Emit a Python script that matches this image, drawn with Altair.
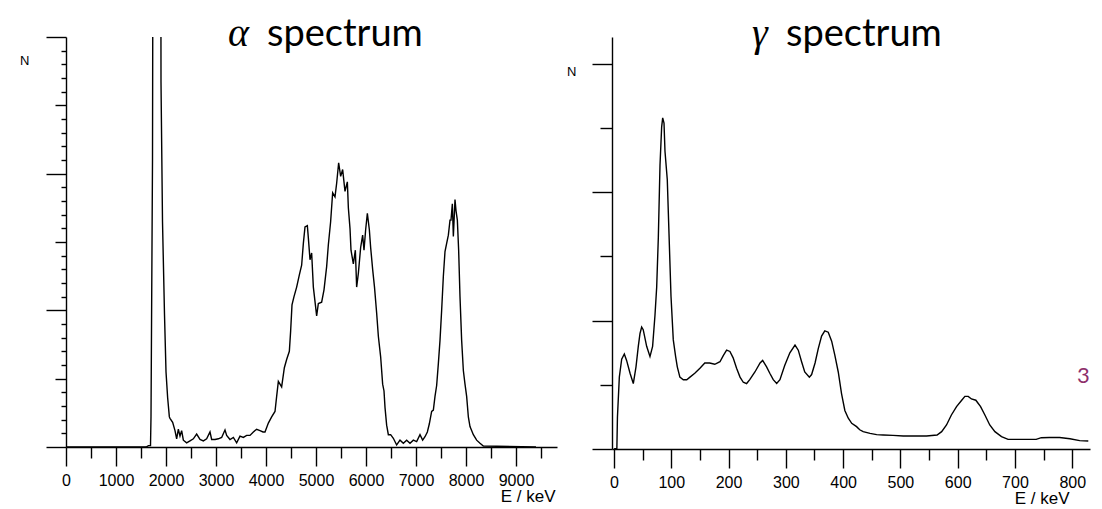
import altair as alt
import pandas as pd

# alpha spectrum: [E (keV), N (arb. units, axis top = 30)]
alpha_points = [
    [0, 0], [1600, 0], [1650, 0.1], [1690, 0.1], [1700, 2.2], [1730, 21], [1750, 60],
    [1890, 60], [1900, 26.7], [1930, 16.5], [1970, 9.7], [2000, 5.5], [2033, 3.6],
    [2067, 2.2], [2080, 2.1], [2133, 1.8], [2180, 1.2], [2213, 0.6], [2247, 1.3],
    [2280, 0.8], [2313, 1.2], [2347, 0.5], [2413, 0.3], [2480, 0.45], [2547, 0.6],
    [2613, 0.95], [2680, 0.55], [2747, 0.45], [2813, 0.6], [2880, 1.1], [2913, 0.55],
    [2980, 0.55], [3047, 0.6], [3113, 0.7], [3180, 1.25], [3213, 0.85], [3280, 0.55],
    [3347, 0.7], [3413, 0.3], [3480, 0.8], [3547, 0.7], [3613, 0.85], [3680, 0.85],
    [3747, 1.1], [3813, 1.3], [3880, 1.2], [3940, 1.1], [3980, 1.1], [4047, 1.75],
    [4113, 2.2], [4180, 2.6], [4213, 3.7], [4247, 4.8], [4313, 4.4], [4367, 5.8],
    [4413, 6.4], [4467, 7.0], [4493, 8.5], [4520, 10.4], [4560, 11.0], [4613, 11.7],
    [4667, 12.6], [4713, 13.3], [4747, 14.9], [4780, 16.1], [4827, 16.2], [4847, 15.3],
    [4880, 13.7], [4913, 14.2], [4947, 11.7], [5013, 9.6], [5047, 10.5], [5113, 10.6],
    [5160, 11.5], [5213, 13.2], [5247, 14.8], [5293, 16.5], [5333, 18.6], [5380, 18.3],
    [5413, 19.3], [5453, 20.8], [5493, 19.8], [5533, 20.3], [5580, 18.7], [5627, 19.4],
    [5647, 17.5], [5680, 16.0], [5700, 14.4], [5747, 13.4], [5787, 14.4], [5813, 11.7],
    [5847, 12.7], [5893, 14.6], [5933, 15.5], [5960, 14.4], [5993, 15.9], [6027, 17.1],
    [6067, 15.9], [6093, 14.6], [6133, 13.0], [6170, 11.7], [6213, 9.8], [6247, 8.1],
    [6293, 6.6], [6333, 4.6], [6360, 4.1], [6380, 2.9], [6413, 1.6], [6447, 0.9],
    [6493, 0.9], [6547, 0.64], [6613, 0.15], [6680, 0.5], [6747, 0.27], [6813, 0.5],
    [6880, 0.27], [6947, 0.5], [7013, 0.4], [7080, 0.9], [7133, 0.5], [7180, 0.75],
    [7227, 1.1], [7267, 1.7], [7313, 2.6], [7347, 2.7], [7380, 3.7], [7413, 4.5],
    [7447, 6.1], [7480, 7.8], [7513, 10.0], [7547, 12.5], [7580, 14.3], [7613, 14.9],
    [7647, 15.5], [7680, 16.6], [7700, 16.6], [7727, 17.8], [7747, 15.4], [7780, 18.1],
    [7800, 17.3], [7827, 16.6], [7853, 14.4], [7880, 11.0], [7913, 7.8], [7947, 5.6],
    [7980, 4.6], [8013, 3.7], [8047, 2.2], [8080, 1.5], [8147, 0.9], [8213, 0.5],
    [8280, 0.27], [8347, 0.07], [9400, 0],
]

# gamma spectrum: [E (keV), N (arb. units, top tick = 30)]
gamma_points = [
    [0, 0], [5, 0.05], [6, 2.5], [9.3, 5.6], [13.4, 7.0], [18, 7.4], [22, 6.9], [28, 5.9],
    [33.7, 5.1], [38.4, 6.4], [42.4, 8.0], [45.4, 9.0], [48.3, 9.5], [51, 9.3], [57, 8.0],
    [62.8, 7.2], [67.4, 8.0], [71.5, 10.4], [74.5, 12.6], [77.4, 16.5], [80.3, 22.1],
    [83.2, 25.1], [85, 25.8], [87.3, 25.4], [89, 23.2], [93, 21.0], [96, 16.8], [99.5, 11.9],
    [103.5, 8.5], [107.6, 7.2], [110.5, 6.4], [115, 5.6], [121, 5.4], [127, 5.4],
    [132.6, 5.6], [141, 5.9], [150, 6.3], [158.5, 6.7], [167, 6.7], [176, 6.6], [185, 6.8],
    [191, 7.3], [196.6, 7.7], [202.4, 7.6], [208, 7.1], [214, 6.3], [220, 5.6],
    [225.7, 5.2], [231.5, 5.1], [237, 5.4], [246, 6.0], [255, 6.7], [259.5, 6.9],
    [266.4, 6.4], [272, 5.9], [278, 5.4], [284, 5.1], [289.7, 5.4], [298, 6.5], [307, 7.5],
    [316, 8.1], [321.7, 7.7], [327.5, 6.8], [333, 6.0], [341, 5.6], [345, 5.8], [351, 6.7],
    [356.5, 7.8], [362.4, 8.8], [368, 9.2], [374, 9.1], [380, 8.4], [385.6, 7.3],
    [391.5, 6.0], [397.3, 4.3], [403, 3.0], [409, 2.4], [415, 2.0], [423.5, 1.74],
    [429, 1.5], [435, 1.35], [447, 1.22], [458.5, 1.12], [470, 1.09], [487, 1.06],
    [505, 1.01], [528, 1.01], [545.6, 1.01], [564, 1.09], [572, 1.35], [580.5, 1.87],
    [589, 2.65], [598, 3.3], [607, 3.8], [612.6, 4.1], [618.4, 4.1], [624, 3.9],
    [631.7, 3.8], [640, 3.3], [647.5, 2.65], [656, 1.87], [665, 1.35], [676.5, 0.96],
    [688, 0.75], [702, 0.75], [720, 0.75], [737, 0.75], [746, 0.88], [760, 0.9],
    [778, 0.9], [796, 0.8], [813, 0.65], [828, 0.62],
]

alpha_x_ticks = list(range(0, 10000, 500))
alpha_y_ticks = list(range(0, 31))
gamma_x_ticks = list(range(0, 850, 50))
gamma_y_ticks = list(range(0, 31, 5))

alpha_titles = ["α", "spectrum"]
gamma_titles = ["γ", "spectrum"]
axis_label_N = "N"
axis_label_E = "E / keV"
page_number = "3"

LABEL_FONT = "Liberation Sans"
TITLE_FONT = "Lato"
LINE_W = 1.4

df_a = pd.DataFrame(alpha_points, columns=["E", "N"])
df_g = pd.DataFrame(gamma_points, columns=["E", "N"])


def x_axis(values, major, title_x):
    return alt.Axis(
        values=values,
        format="d",
        labelExpr=f"datum.value % {major} === 0 ? datum.label : ''",
        tickSize={"condition": {"test": f"datum.value % {major} === 0", "value": 19}, "value": 11},
        labelPadding=6,
        labelFont=LABEL_FONT,
        labelFontSize=16,
        labelColor="black",
        labelFlush=False,
        labelOverlap=False,
        tickColor="black",
        tickWidth=LINE_W,
        domainColor="black",
        domainWidth=LINE_W,
        grid=False,
        title=axis_label_E,
        titleFont=LABEL_FONT,
        titleFontSize=17,
        titleFontWeight="normal",
        titleColor="black",
        titleAlign="right",
        titleBaseline="alphabetic",
        titleX=title_x,
        titleY=54,
    )


def y_axis(values, cond_size, default_size):
    return alt.Axis(
        values=values,
        labels=False,
        title=None,
        grid=False,
        tickSize={"condition": cond_size, "value": default_size},
        tickColor="black",
        tickWidth=LINE_W,
        domainColor="black",
        domainWidth=LINE_W,
    )


def texts(label_list, xs, y, size, font, style="normal", color="black"):
    layers = []
    for lab, xv in zip(label_list, xs):
        layers.append(
            alt.Chart(pd.DataFrame({"t": [lab]}))
            .mark_text(align="left", baseline="alphabetic", fontSize=size, font=font,
                       fontStyle=style, color=color)
            .encode(text="t:N", x=alt.value(xv), y=alt.value(y))
        )
    return layers


# ---- left: alpha spectrum
a_line = alt.Chart(df_a).mark_line(color="black", strokeWidth=LINE_W, clip=True).encode(
    x=alt.X("E:Q", scale=alt.Scale(domain=[0, 9820], nice=False, zero=False),
            axis=x_axis(alpha_x_ticks, 1000, 489)),
    y=alt.Y("N:Q", scale=alt.Scale(domain=[0, 30], nice=False),
            axis=y_axis(alpha_y_ticks, [
                {"test": "datum.value % 10 === 0", "value": 20},
                {"test": "datum.value % 5 === 0", "value": 11},
            ], 5)),
)
a_layers = [a_line]
a_layers += texts([alpha_titles[0]], [162], 9, 40, "Liberation Serif", "italic")
a_layers += texts([alpha_titles[1]], [201], 9, 38, TITLE_FONT)
a_layers += texts([axis_label_N], [-46], 28, 13, LABEL_FONT)
left = alt.layer(*a_layers).properties(width=491, height=410)

# ---- right: gamma spectrum
g_line = alt.Chart(df_g).mark_line(color="black", strokeWidth=LINE_W, clip=True).encode(
    x=alt.X("E:Q", scale=alt.Scale(domain=[-3.5, 831], nice=False, zero=False),
            axis=x_axis(gamma_x_ticks, 100, 457)),
    y=alt.Y("N:Q", scale=alt.Scale(domain=[0, 32.1], nice=False),
            axis=y_axis(gamma_y_ticks, [
                {"test": "datum.value % 10 === 0", "value": 20},
            ], 12)),
)
g_layers = [g_line]
g_layers += texts([gamma_titles[0]], [140], 9, 40, "Liberation Serif", "italic")
g_layers += texts([gamma_titles[1]], [174], 9, 38, TITLE_FONT)
g_layers += texts([axis_label_N], [-45], 39, 13, LABEL_FONT)
g_layers += texts([page_number], [465], 346, 22, TITLE_FONT, color="#8E2F6B")
right = alt.layer(*g_layers).properties(width=478, height=412)

chart = (
    alt.hconcat(left, right, spacing=55, bounds="flush")
    .properties(padding={"left": 12, "top": 6, "right": 4, "bottom": 0}, background="white")
    .configure_view(stroke=None)
)

chart.save("out.html", embed_options={"renderer": "svg", "actions": False})
